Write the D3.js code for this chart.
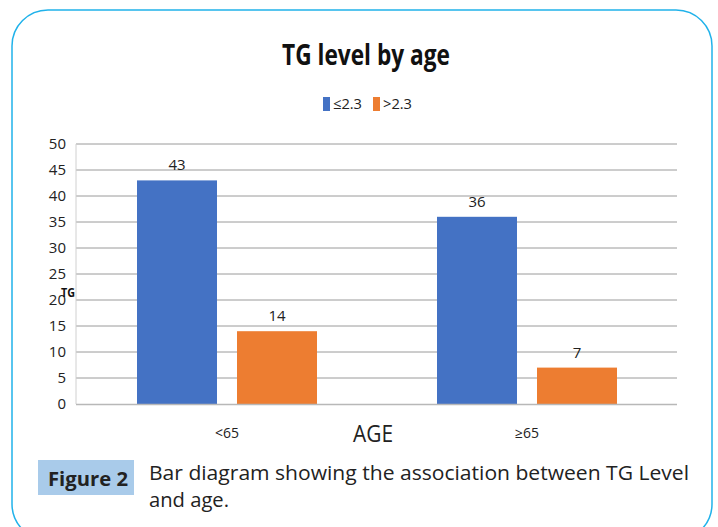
<!DOCTYPE html>
<html>
  <head>
    <script src='https://d3js.org/d3.v7.min.js'></script>
    <style>
      body, html { margin: 0; padding: 0; background: #fff; }
      svg { display: block; }
    </style>
  </head>
  <body>
    <svg width='718' height='527'></svg>
    <script>
      var categories = ['<65', '≥65']
      var seriesNames = ['≤2.3', '>2.3']
      var lowValues = [43, 36]
      var highValues = [14, 7]
      var yTicks = [0, 5, 10, 15, 20, 25, 30, 35, 40, 45, 50]
      var colors = ['#4472C4', '#ED7D31']

      var narrow = "'Liberation Sans Narrow', 'Open Sans', sans-serif"
      var svg = d3.select('svg')

      // frame
      svg.append('rect')
        .attr('x', 12).attr('y', 10)
        .attr('width', 700).attr('height', 530)
        .attr('rx', 36).attr('ry', 36)
        .attr('fill', 'none')
        .attr('stroke', '#20B2EA')
        .attr('stroke-width', 1.5)

      var x0 = d3.scaleBand().domain(categories).range([77, 677])
      var x1 = d3.scaleBand().domain(seriesNames).range([60, 240]).paddingInner(0.2)
      var y = d3.scaleLinear().domain([0, 50]).range([404, 144])

      // grid
      svg.append('g').selectAll('line')
        .data(yTicks.filter(function(d) { return d > 0 }))
        .enter().append('line')
          .attr('x1', 76).attr('x2', 677)
          .attr('y1', function(d) { return y(d) }).attr('y2', function(d) { return y(d) })
          .attr('stroke', '#9a9a9a').attr('stroke-width', 1)

      svg.append('line')
        .attr('x1', 76).attr('x2', 76).attr('y1', 144).attr('y2', 404)
        .attr('stroke', '#d0d0d0')

      var yAxis = svg.append('g')
        .attr('transform', 'translate(70,0)')
        .call(d3.axisLeft(y).tickValues(yTicks).tickSize(0).tickPadding(4))
      yAxis.select('.domain').remove()
      yAxis.selectAll('text')
        .attr('font-family', narrow).attr('font-size', 15).attr('fill', '#222')

      var rows = categories.map(function(c, i) {
        return {cat: c, vals: [lowValues[i], highValues[i]]}
      })

      var groups = svg.append('g').selectAll('g')
        .data(rows).enter().append('g')
          .attr('transform', function(d) { return 'translate(' + x0(d.cat) + ',0)' })

      groups.selectAll('rect')
        .data(function(d) { return d.vals.map(function(v, j) { return {s: seriesNames[j], v: v, j: j} }) })
        .enter().append('rect')
          .attr('x', function(d) { return x1(d.s) })
          .attr('width', x1.bandwidth())
          .attr('y', function(d) { return y(d.v) })
          .attr('height', function(d) { return y(0) - y(d.v) })
          .attr('fill', function(d) { return colors[d.j] })

      groups.selectAll('text')
        .data(function(d) { return d.vals.map(function(v, j) { return {s: seriesNames[j], v: v} }) })
        .enter().append('text')
          .attr('x', function(d) { return x1(d.s) + x1.bandwidth() / 2 })
          .attr('y', function(d) { return y(d.v) - 10 })
          .attr('text-anchor', 'middle')
          .attr('font-family', narrow).attr('font-size', 15).attr('fill', '#222')
          .text(function(d) { return d.v })

      // baseline
      svg.append('line')
        .attr('x1', 76).attr('x2', 677).attr('y1', 404.5).attr('y2', 404.5)
        .attr('stroke', '#b8b8b8').attr('stroke-width', 1.5)

      // category labels
      svg.append('g').selectAll('text')
        .data(categories).enter().append('text')
          .attr('x', function(d) { return x0(d) + x0.bandwidth() / 2 })
          .attr('y', 438)
          .attr('text-anchor', 'middle')
          .attr('font-family', narrow).attr('font-size', 14).attr('fill', '#222')
          .text(function(d) { return d })

      svg.append('text')
        .attr('x', 373).attr('y', 442)
        .attr('text-anchor', 'middle')
        .attr('font-family', narrow).attr('font-size', 24).attr('fill', '#222')
        .attr('textLength', 40).attr('lengthAdjust', 'spacingAndGlyphs')
        .text('AGE')

      svg.append('text')
        .attr('x', 61).attr('y', 297)
        .attr('font-family', "'Open Sans', sans-serif").attr('font-weight', 'bold')
        .attr('font-size', 13).attr('fill', '#111')
        .attr('textLength', 14).attr('lengthAdjust', 'spacingAndGlyphs')
        .text('TG')

      // title
      svg.append('text')
        .attr('x', 366).attr('y', 65)
        .attr('text-anchor', 'middle')
        .attr('font-family', narrow).attr('font-weight', 'bold')
        .attr('font-size', 29).attr('fill', '#111')
        .attr('textLength', 168).attr('lengthAdjust', 'spacingAndGlyphs')
        .text('TG level by age')

      // legend
      var legend = svg.append('g').selectAll('g')
        .data(seriesNames).enter().append('g')
          .attr('transform', function(d, i) { return 'translate(' + (323 + i * 50) + ',97)' })
      legend.append('rect')
        .attr('width', 7).attr('height', 14)
        .attr('fill', function(d, i) { return colors[i] })
      legend.append('text')
        .attr('x', 10).attr('y', 12)
        .attr('font-family', narrow).attr('font-size', 15).attr('fill', '#222')
        .attr('textLength', 29).attr('lengthAdjust', 'spacingAndGlyphs')
        .text(function(d) { return d })

      // caption
      svg.append('rect')
        .attr('x', 38).attr('y', 460).attr('width', 96).attr('height', 35)
        .attr('fill', '#A9CBEA')
      svg.append('text')
        .attr('x', 88).attr('y', 486)
        .attr('text-anchor', 'middle')
        .attr('font-family', "'Open Sans', sans-serif").attr('font-weight', 'bold')
        .attr('font-size', 20).attr('fill', '#222')
        .attr('textLength', 80).attr('lengthAdjust', 'spacingAndGlyphs')
        .text('Figure 2')
      svg.append('text')
        .attr('x', 149).attr('y', 480)
        .attr('font-family', "'Open Sans', sans-serif")
        .attr('font-size', 20).attr('fill', '#222')
        .attr('textLength', 540).attr('lengthAdjust', 'spacingAndGlyphs')
        .text('Bar diagram showing the association between TG Level')
      svg.append('text')
        .attr('x', 149).attr('y', 507)
        .attr('font-family', "'Open Sans', sans-serif")
        .attr('font-size', 20).attr('fill', '#222')
        .attr('textLength', 80).attr('lengthAdjust', 'spacingAndGlyphs')
        .text('and age.')
    </script>
  </body>
</html>
